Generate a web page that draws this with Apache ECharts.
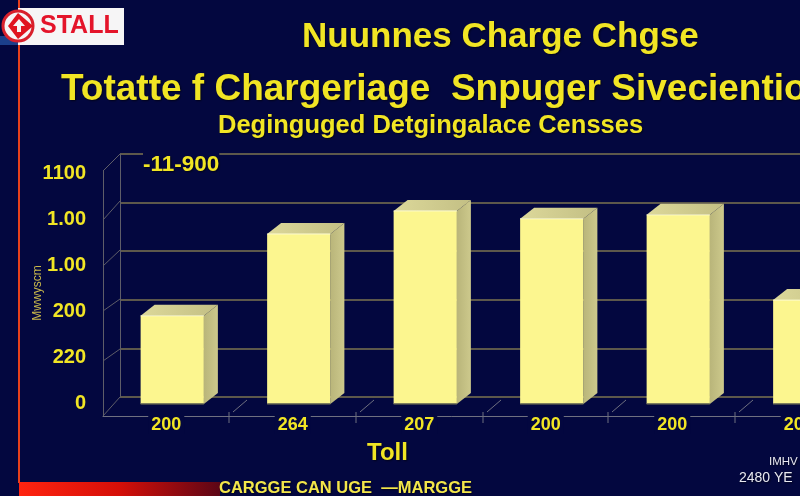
<!DOCTYPE html>
<html><head><meta charset="utf-8">
<style>html,body{margin:0;padding:0;background:#03073f}#c{width:800px;height:496px}</style>
<script src="https://cdn.jsdelivr.net/npm/echarts@6/dist/echarts.min.js"></script>
</head><body><div id="c"></div>
<script>
const categories = ['200', '264', '207', '200', '200', '200'];
const barValues = [1.80, 3.47, 3.94, 3.78, 3.86, 2.12];
const yTickLabels = ['0', '220', '200', '1.00', '1.00', '1100'];

const FONT = '"Liberation Sans", Arial, sans-serif';
const YELLOW = '#f1e524';
const chart = echarts.init(document.getElementById('c'), null, {renderer: 'canvas'});

function txt(text, left, top, size, weight, color, extra) {
  return Object.assign({
    text, left, top, padding: 0,
    textStyle: {color: color || YELLOW, fontFamily: FONT, fontSize: size, fontWeight: weight || 'normal',
      textShadowColor: 'rgba(0,0,0,0.6)', textShadowBlur: 2, textShadowOffsetX: 1, textShadowOffsetY: 1}
  }, extra || {});
}

const frame = [];
const line = (x1, y1, x2, y2, stroke, w) => frame.push({type: 'line', silent: true, z: 1,
  shape: {x1, y1, x2, y2}, style: {stroke, lineWidth: w || 1}});
[[171, 154], [220, 201], [311, 299], [361, 349], [416, 397], [266, 250]].forEach(p => line(103, p[0], 120, p[1], '#5e5d68'));
[229, 356, 483, 608, 735].forEach(x => {
  line(x, 412, x, 423, '#6f7080');
  line(x + 4, 412, x + 18, 400, '#6f7080');
});
// red frame
line(19, 0, 19, 483, '#e8401c', 2);
frame.push({type: 'rect', silent: true, z: 5, shape: {x: 19, y: 482, width: 201, height: 14},
  style: {fill: new echarts.graphic.LinearGradient(0, 0, 1, 0, [
    {offset: 0, color: '#ff2410'}, {offset: 0.5, color: '#d50f08'}, {offset: 1, color: '#5c0616'}])}});
// logo
frame.push({type: 'rect', silent: true, z: 5, shape: {x: 18, y: 8, width: 106, height: 37}, style: {fill: '#f6f5f6'}});
frame.push({type: 'rect', silent: true, z: 5, shape: {x: 0, y: 36, width: 18, height: 9}, style: {fill: '#1b3f8a'}});
frame.push({type: 'circle', silent: true, z: 6, shape: {cx: 18, cy: 26, r: 15}, style: {fill: '#f6f5f6', stroke: '#d8202c', lineWidth: 3}});
frame.push({type: 'polygon', silent: true, z: 7, shape: {points: [[18, 13], [33, 26], [18, 39], [8, 26]]},
  style: {fill: '#e0141f'}});
frame.push({type: 'polygon', silent: true, z: 8, shape: {points: [[19, 19], [25, 26], [21, 26], [21, 32], [17, 32], [17, 26], [13, 26]]},
  style: {fill: '#f6f5f6'}});
frame.push({type: 'text', silent: true, z: 8, style: {text: 'STALL', x: 40, y: 14, fill: '#e4142a', fontFamily: FONT, fontWeight: 'bold', fontSize: 25}});
frame.push({type: 'text', silent: true, z: 8, rotation: Math.PI / 2, x: 38, y: 293,
  style: {text: 'Mwwyscm', fill: '#c9b84a', fontFamily: FONT, fontSize: 12, align: 'center', verticalAlign: 'middle'}});

function renderBar(params, api) {
  const i = api.value(0), v = api.value(1);
  const p = api.coord([i, v]);
  const w = api.size([1, 0])[0] * 0.5;
  const base = api.coord([i, 0])[1] - 12;
  const x0 = p[0] + 6 - w / 2, x1 = x0 + w, top = p[1] - 12;
  const dx = 14, dy = 11;
  return {type: 'group', children: [
    {type: 'polygon', shape: {points: [[x1, top], [x1 + dx, top - dy], [x1 + dx, base - dy], [x1, base]]},
      style: {fill: new echarts.graphic.LinearGradient(0, 0, 1, 0, [{offset: 0, color: '#b9b57a'}, {offset: 1, color: '#cdc98c'}])}},
    {type: 'polygon', shape: {points: [[x0, top], [x0 + dx, top - dy], [x1 + dx, top - dy], [x1, top]]},
      style: {fill: new echarts.graphic.LinearGradient(0, 0, 1, 0, [{offset: 0, color: '#dcd89a'}, {offset: 1, color: '#c3bf84'}])}},
    {type: 'rect', shape: {x: x0, y: top, width: w, height: base - top}, style: {fill: '#fcf68f'}},
    {type: 'line', shape: {x1: x0, y1: top, x2: x1, y2: top}, style: {stroke: '#fdfbd0', lineWidth: 1}},
    {type: 'line', shape: {x1: x0, y1: base, x2: x1, y2: base}, style: {stroke: '#55564f', lineWidth: 1.5}}
  ]};
}

const hiddenX = {type: 'category', data: categories, show: false};
chart.setOption({
  animation: false,
  backgroundColor: '#03073f',
  title: [
    txt('Nuunnes Charge Chgse', 302, 20, 35, 'bold'),
    txt('Totatte f Chargeriage  Snpuger Sivecientio', 61, 71, 37, 'bold'),
    txt('Deginguged Detgingalace Censses', 218, 113, 25.5, 'bold'),
    txt('-11-900', 143, 153, 22.5, 'bold', YELLOW, {backgroundColor: '#03073f'}),
    txt('Toll', 367, 441, 24, 'bold'),
    txt('CARGGE CAN UGE  \u2014MARGGE', 219, 480, 16.5, 'bold', '#f3e64a', {z: 8}),
    txt('IMHV', 769, 456, 11.5, 'normal', '#e8e8f0'),
    txt('2480 YE', 739, 471, 14, 'normal', '#e8e8f0')
  ],
  grid: [
    {left: 120, top: 154, width: 700, height: 243, outerBoundsMode: 'none'},
    {left: 91, top: 173, width: 10, height: 230, outerBoundsMode: 'none'},
    {left: 103, top: 171, width: 759, height: 245, outerBoundsMode: 'none'}
  ],
  xAxis: [
    Object.assign({gridIndex: 0}, hiddenX),
    Object.assign({gridIndex: 1}, hiddenX),
    {gridIndex: 2, type: 'category', data: categories,
      axisLine: {show: true, lineStyle: {color: '#6f7080', width: 1}},
      axisTick: {show: false},
      axisLabel: {color: YELLOW, fontFamily: FONT, fontSize: 18, fontWeight: 'bold', margin: 0, backgroundColor: '#03073f', padding: [0, 3, 0, 3], interval: 0}}
  ],
  yAxis: [
    {gridIndex: 0, type: 'value', min: 0, max: 5, interval: 1,
      axisLine: {show: true, lineStyle: {color: '#5e5d68'}}, axisTick: {show: false}, axisLabel: {show: false},
      splitLine: {show: true, lineStyle: {color: '#7d7450', width: 1.5}}},
    {gridIndex: 1, type: 'value', min: 0, max: 5, interval: 1,
      axisLine: {show: false}, axisTick: {show: false}, splitLine: {show: false},
      axisLabel: {color: YELLOW, fontFamily: FONT, fontSize: 20, fontWeight: 'bold', margin: 5, formatter: v => yTickLabels[v]}},
    {gridIndex: 2, type: 'value', min: 0, max: 5, interval: 1,
      axisLine: {show: true, lineStyle: {color: '#5e5d68'}}, axisTick: {show: false}, axisLabel: {show: false}, splitLine: {show: false}}
  ],
  series: [{
    type: 'custom', xAxisIndex: 2, yAxisIndex: 2, z: 3, clip: false,
    renderItem: renderBar,
    encode: {x: 0, y: 1},
    data: barValues.map((v, i) => [i, v])
  }],
  graphic: frame
});
</script></body></html>
